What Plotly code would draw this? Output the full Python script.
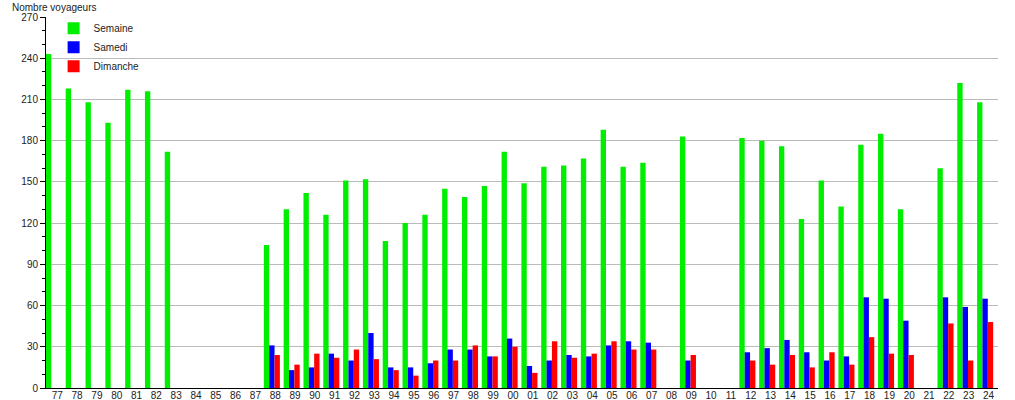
import plotly.graph_objects as go

years = ["77","78","79","80","81","82","83","84","85","86","87","88","89","90","91","92",
         "93","94","95","96","97","98","99","00","01","02","03","04","05","06","07","08",
         "09","10","11","12","13","14","15","16","17","18","19","20","21","22","23","24"]

semaine = [243, 218, 208, 193, 217, 216, 172, 0, 0, 0, 0, 104, 130, 142, 126, 151,
           152, 107, 120, 126, 145, 139, 147, 172, 149, 161, 162, 167, 188, 161, 164, 0,
           183, 0, 0, 182, 180, 176, 123, 151, 132, 177, 185, 130, 0, 160, 222, 208]

samedi = [0, 0, 0, 0, 0, 0, 0, 0, 0, 0, 0, 31, 13, 15, 25, 20,
          40, 15, 15, 18, 28, 28, 23, 36, 16, 20, 24, 23, 31, 34, 33, 0,
          20, 0, 0, 26, 29, 35, 26, 20, 23, 66, 65, 49, 0, 66, 59, 65]

dimanche = [0, 0, 0, 0, 0, 0, 0, 0, 0, 0, 0, 24, 17, 25, 22, 28,
            21, 13, 9, 20, 20, 31, 23, 30, 11, 34, 22, 25, 34, 28, 28, 0,
            24, 0, 0, 20, 17, 24, 15, 26, 17, 37, 25, 24, 0, 47, 20, 48]

x = list(range(len(years)))
FONT = "Liberation Sans, Arial, sans-serif"

fig = go.Figure()
fig.add_trace(go.Bar(x=x, y=semaine, name="Semaine", marker=dict(color="#00ee00", line=dict(width=0))))
fig.add_trace(go.Bar(x=x, y=samedi, name="Samedi", marker=dict(color="#0000ff", line=dict(width=0))))
fig.add_trace(go.Bar(x=x, y=dimanche, name="Dimanche", marker=dict(color="#ff0000", line=dict(width=0))))

fig.update_layout(
    width=1015, height=400,
    margin=dict(l=46, r=17, t=17, b=12, autoexpand=False),
    paper_bgcolor="white", plot_bgcolor="white",
    barmode="group", bargap=0.19, bargroupgap=0,
    font=dict(family=FONT, size=10, color="#222222"),
    showlegend=True,
    legend=dict(x=0.008, y=1.009, xanchor="left", yanchor="top",
                bgcolor="rgba(0,0,0,0)", font=dict(size=10, color="#222222"),
                tracegroupgap=0, itemwidth=30),
    xaxis=dict(range=[-0.4, 47.65], tickmode="array", automargin=False,
               tickvals=[i + 0.17 for i in x], ticktext=years,
               showgrid=False, zeroline=False, showline=True, linecolor="#000000",
               linewidth=1, ticks="", tickfont=dict(size=10, color="#222222"),
               ticklabelstandoff=-2, fixedrange=True),
    yaxis=dict(range=[0, 270], dtick=30, tick0=0, showgrid=True, gridcolor="#bbbbbb",
               automargin=False,
               gridwidth=1, zeroline=False, showline=True, linecolor="#000000", linewidth=1,
               ticks="outside", ticklen=5, tickcolor="#000000",
               minor=dict(dtick=10, ticks="outside", ticklen=3, tickcolor="#000000", showgrid=False),
               tickfont=dict(size=10, color="#222222")),
)

fig.add_annotation(text="Nombre voyageurs", xref="paper", yref="paper",
                   x=0, y=1, xanchor="left", yanchor="bottom", xshift=-36, yshift=2,
                   showarrow=False, font=dict(size=10, color="#222222"))

fig.write_html("out.html", config={"displayModeBar": False},
               post_script="document.body.style.margin='0';document.body.style.overflow='hidden';")
